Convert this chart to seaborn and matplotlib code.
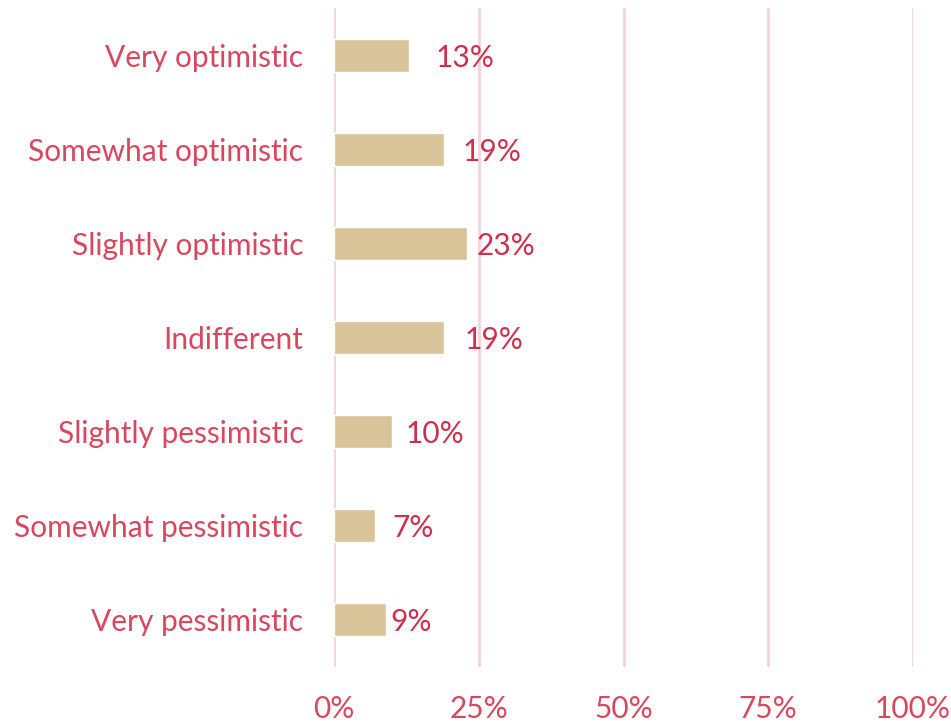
import matplotlib
matplotlib.use("Agg")
import matplotlib.pyplot as plt
import seaborn as sns
import pandas as pd

categories = ["Very optimistic", "Somewhat optimistic", "Slightly optimistic",
              "Indifferent", "Slightly pessimistic", "Somewhat pessimistic",
              "Very pessimistic"]
values = [0.13, 0.19, 0.23, 0.19, 0.10, 0.07, 0.09]
value_labels = ["13%", "19%", "23%", "19%", "10%", "7%", "9%"]
tick_values = [0, 0.25, 0.5, 0.75, 1.0]
tick_labels = ["0%", "25%", "50%", "75%", "100%"]
label_offsets = [19, 13, 7, 15, 10, 13, 3]  # points

sns.set_theme(style="white")
plt.rcParams['font.family'] = ['Lato', 'DejaVu Sans']

df = pd.DataFrame({"category": categories, "value": values})

fig = plt.figure(figsize=(9.51, 7.23), dpi=100)
ax = fig.add_axes([334/951, 1-667/723, (913-334)/951, (667-8)/723])

label_color = "#D9475E"
val_color = "#CF2F4C"
grid_color = "#F6D3DA"
fs = 21.5

sns.barplot(data=df, x="value", y="category", color="#D9C49A", width=0.35,
            ax=ax, saturation=1, zorder=3)

ax.set_xlim(0, 1)
ax.set_ylim(6.5, -0.5)
ax.set_xticks(tick_values)
ax.set_xticklabels(tick_labels)
for t in tick_values:
    ax.axvline(t, color=grid_color, lw=2, zorder=1)

for s in ax.spines.values():
    s.set_visible(False)
ax.set_xlabel("")
ax.set_ylabel("")
ax.tick_params(axis="x", length=0, pad=20, labelsize=fs, labelcolor=label_color)
ax.tick_params(axis="y", length=0, pad=22, labelsize=fs, labelcolor=label_color)

for i, (v, lab, off) in enumerate(zip(values, value_labels, label_offsets)):
    ax.annotate(lab, xy=(v, i), xytext=(off, 0), textcoords="offset points",
                ha="left", va="center_baseline", fontsize=fs, color=val_color, zorder=4)

fig.savefig("out.png", dpi=100)
